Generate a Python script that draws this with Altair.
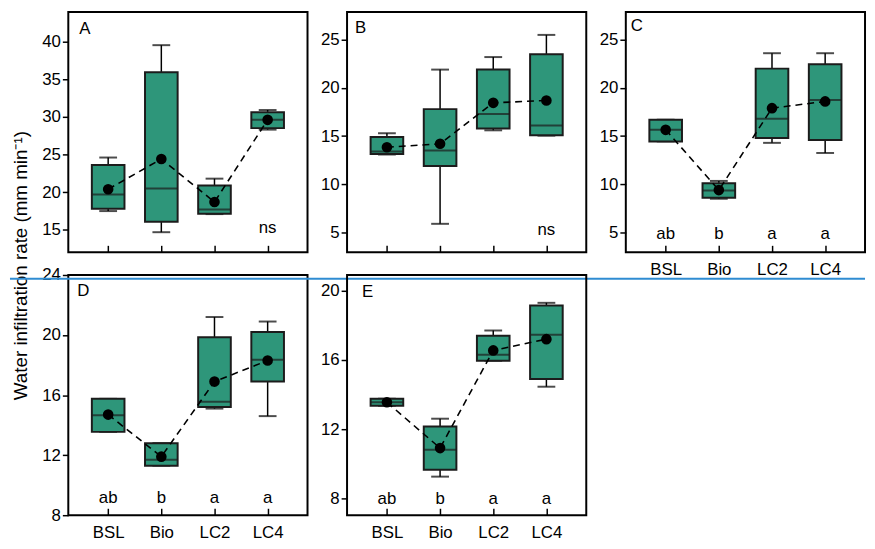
import altair as alt
import pandas as pd

groups = ["BSL", "Bio", "LC2", "LC4"]

# Panel A
a_hi = [24.6, 39.5, 21.8, 30.9]
a_q3 = [23.6, 35.9, 20.9, 30.6]
a_med = [19.7, 20.5, 17.7, 29.6]
a_q1 = [17.8, 16.1, 17.15, 28.5]
a_lo = [17.5, 14.7, 17.1, 28.3]
a_mean = [20.4, 24.4, 18.7, 29.6]
a_sig = ["", "", "", "ns"]
a_sig_y = [15.3, 15.3, 15.3, 15.3]

# Panel B
b_hi = [15.3, 21.9, 23.2, 25.5]
b_q3 = [14.9, 17.8, 21.9, 23.5]
b_med = [13.4, 13.5, 17.3, 16.1]
b_q1 = [13.15, 11.9, 15.8, 15.1]
b_lo = [13.1, 5.9, 15.6, 15.05]
b_mean = [13.85, 14.2, 18.45, 18.7]
b_sig = ["", "", "", "ns"]
b_sig_y = [5.3, 5.3, 5.3, 5.3]

# Panel C
c_hi = [16.7, 10.35, 23.6, 23.6]
c_q3 = [16.7, 10.1, 22.0, 22.45]
c_med = [15.65, 9.35, 16.8, 18.75]
c_q1 = [14.45, 8.6, 14.8, 14.6]
c_lo = [14.45, 8.5, 14.3, 13.25]
c_mean = [15.65, 9.4, 17.9, 18.6]
c_sig = ["ab", "b", "a", "a"]
c_sig_y = [4.8, 4.8, 4.8, 4.8]

# Panel D
d_hi = [15.75, 12.8, 21.2, 20.9]
d_q3 = [15.75, 12.8, 19.85, 20.2]
d_med = [14.65, 11.7, 15.55, 18.35]
d_q1 = [13.55, 11.3, 15.2, 16.9]
d_lo = [13.55, 11.3, 15.1, 14.6]
d_mean = [14.7, 11.9, 16.9, 18.3]
d_sig = ["ab", "b", "a", "a"]
d_sig_y = [9.15, 9.15, 9.15, 9.15]

# Panel E
e_hi = [13.75, 12.6, 17.7, 19.3]
e_q3 = [13.75, 12.15, 17.4, 19.15]
e_med = [13.55, 10.8, 16.3, 17.45]
e_q1 = [13.35, 9.65, 15.95, 14.9]
e_lo = [13.35, 9.25, 15.95, 14.45]
e_mean = [13.55, 10.9, 16.55, 17.2]
e_sig = ["ab", "b", "a", "a"]
e_sig_y = [7.95, 7.95, 7.95, 7.95]

y_title = "Water infiltration rate (mm min\u207b\u00b9)"

FILL = "#2e967a"
EDGE = "#1c1c1c"
W, H = 242, 243


def panel(letter, lpos, lo, q1, med, q3, hi, mean, sig, sig_y, ydom, yticks,
          xlabels, title_axis=False, blue=None):
    df = pd.DataFrame({"group": groups, "lo": lo, "q1": q1, "med": med,
                       "q3": q3, "hi": hi, "mean": mean, "sig": sig,
                       "sig_y": sig_y})
    xaxis = alt.Axis(title=None, labels=xlabels, labelAngle=0,
                     tickSize={"expr": "-7"}, tickWidth=1.5,
                     labelPadding=17, labelBaseline="top")
    x = alt.X("group:N", sort=groups,
              scale=alt.Scale(type="point", padding=0.75), axis=xaxis)
    ysc = alt.Scale(domain=ydom, nice=False, zero=False)
    if title_axis:
        yaxis = alt.Axis(values=yticks, title=y_title, tickSize=6,
                         tickWidth=1.5, labelPadding=2, titleX=-42,
                         titleY=-10, titleAngle=270, titleAlign="center",
                         titleBaseline="alphabetic")
    else:
        yaxis = alt.Axis(values=yticks, title=None, tickSize=6,
                         tickWidth=1.5, labelPadding=2)

    def Y(f):
        return alt.Y(f, scale=ysc, axis=yaxis)

    base = alt.Chart(df).encode(x=x)
    whisk = base.mark_rule(color="black", strokeWidth=1.5).encode(
        y=Y("lo:Q"), y2="hi:Q")
    cap_hi = base.mark_tick(color="black", size=18, thickness=2).encode(y=Y("hi:Q"))
    cap_lo = base.mark_tick(color="black", size=18, thickness=2).encode(y=Y("lo:Q"))
    box = base.mark_bar(size=33, fill=FILL, stroke=EDGE, strokeWidth=2).encode(
        y=Y("q1:Q"), y2="q3:Q")
    mline = base.mark_tick(color=EDGE, size=33, thickness=2).encode(y=Y("med:Q"))
    line = base.mark_line(color="black", strokeDash=[7, 5], strokeWidth=1.6).encode(
        y=Y("mean:Q"))
    pts = base.mark_circle(color="black", size=115, opacity=1).encode(y=Y("mean:Q"))
    sigt = base.mark_text(fontSize=17, baseline="middle", color="black").encode(
        y=Y("sig_y:Q"), text="sig:N")
    lab = alt.Chart(pd.DataFrame({"t": [letter]})).mark_text(
        align="left", baseline="top", fontSize=17, color="black").encode(
        x=alt.value(lpos[0]), y=alt.value(lpos[1]), text="t:N")
    layers = [whisk, cap_hi, cap_lo, box, mline, line, pts, sigt, lab]
    if blue is not None:
        bl = alt.Chart(pd.DataFrame({"b": [blue]})).mark_rule(
            color="#2f8cd2", strokeWidth=2).encode(
            x=alt.value(-59), x2=alt.value(806), y=Y("b:Q"))
        layers.append(bl)
    return alt.layer(*layers).properties(width=W, height=H)


pA = panel("A", (11, 9), a_lo, a_q1, a_med, a_q3, a_hi, a_mean, a_sig, a_sig_y,
           [12.04, 43.89], [15, 20, 25, 30, 35, 40], False)
pB = panel("B", (8, 8), b_lo, b_q1, b_med, b_q3, b_hi, b_mean, b_sig, b_sig_y,
           [2.95, 27.87], [5, 10, 15, 20, 25], False)
pC = panel("C", (5, 6), c_lo, c_q1, c_med, c_q3, c_hi, c_mean, c_sig, c_sig_y,
           [2.95, 27.87], [5, 10, 15, 20, 25], True)
pD = panel("D", (9, 8), d_lo, d_q1, d_med, d_q3, d_hi, d_mean, d_sig, d_sig_y,
           [8, 24], [8, 12, 16, 20, 24], True, title_axis=True, blue=23.75)
pE = panel("E", (15, 9), e_lo, e_q1, e_med, e_q3, e_hi, e_mean, e_sig, e_sig_y,
           [7.02, 20.91], [8, 12, 16, 20], True)

chart = alt.concat(pA, pB, pC, pD, pE, columns=3,
                   spacing={"row": 23, "column": 40}, bounds="flush").properties(
    padding={"left": 0, "top": 0, "right": 0, "bottom": -4}
).configure(font="Liberation Sans").configure_axis(
    labelFont="Liberation Sans", labelFontSize=17, labelColor="black",
    tickColor="black", domain=False, grid=False,
    titleFont="Liberation Sans", titleFontSize=19, titleColor="black",
    titleFontWeight="normal"
).configure_view(stroke="black", strokeWidth=2)

chart.save("out.html", embed_options={"renderer": "svg", "actions": False})
